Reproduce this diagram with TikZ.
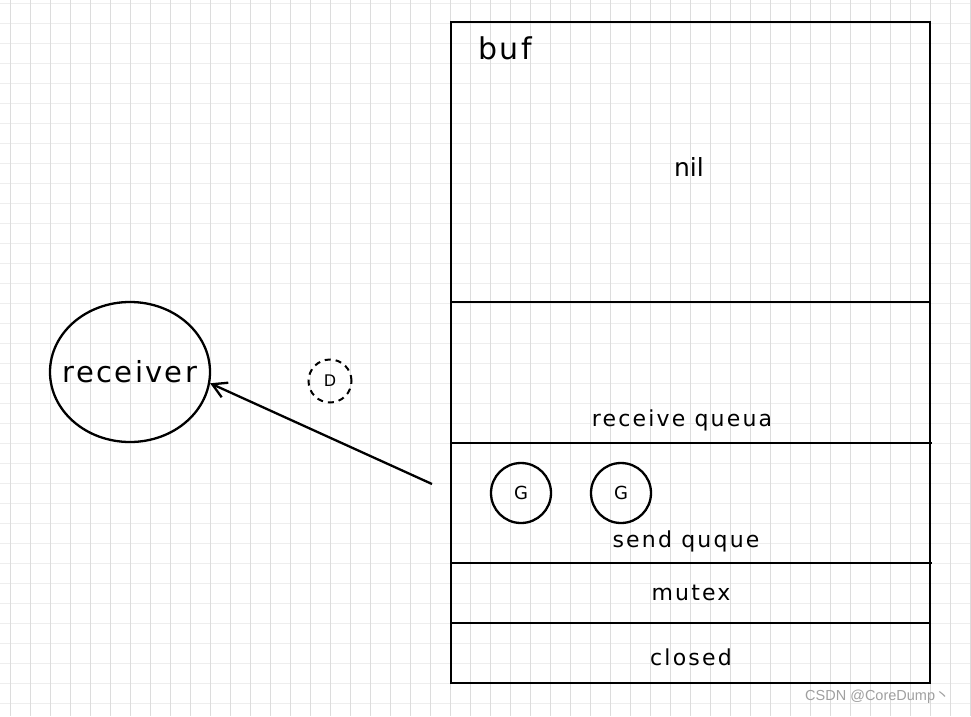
\documentclass[tikz,border=0pt]{standalone}
\usepackage{fontspec}
\setmainfont{DejaVu Sans}
\newfontfamily\wmfont{Liberation Sans}
\newfontfamily\cjkfont{Noto Sans CJK SC}
\usetikzlibrary{arrows.meta,shapes.geometric}
\definecolor{gridv}{HTML}{DCDCDC}
\definecolor{gridh}{HTML}{EEEEEE}
\definecolor{wm}{HTML}{A0A0A0}
\tikzset{
  boxline/.style={line width=2.3pt, black},
  divline/.style={line width=2.8pt, black},
  lbl/.style={inner sep=0pt, font=\fontsize{22}{24}\selectfont\addfontfeatures{LetterSpace=10}},
  gnode/.style={circle, draw, line width=2.3pt, minimum size=60pt, inner sep=0pt, font=\fontsize{18}{19}\selectfont},
}
\begin{document}
\begin{tikzpicture}[x=1pt,y=-1pt]
\useasboundingbox (0,0) rectangle (971,716);
\fill[white] (0,0) rectangle (971,716);
% grid
\foreach \y in {3,23,...,716} \draw[gridh, line width=1pt] (0,\y) -- (971,\y);
\foreach \x in {10,30,...,971} \draw[gridv, line width=1pt] (\x,0) -- (\x,716);
% main box
\coordinate (tl) at (451,22);
\coordinate (br) at (930,683);
\draw[boxline] (tl) rectangle (br);
\coordinate (d1l) at (451,302); \coordinate (d1r) at (930,302);
\coordinate (d2l) at (451,443); \coordinate (d2r) at (932,443);
\coordinate (d3l) at (451,563); \coordinate (d3r) at (932,563);
\coordinate (d4l) at (451,623); \coordinate (d4r) at (930,623);
\draw[divline] (d1l) -- (d1r);
\draw[divline] (d2l) -- (d2r);
\draw[divline] (d3l) -- (d3r);
\draw[divline] (d4l) -- (d4r);
% labels
\node[lbl, font=\fontsize{30}{32}\selectfont\addfontfeatures{LetterSpace=8}] (buf) at (505,48) {buf};
\node[lbl, font=\fontsize{25}{27}\selectfont] (nil) at (689,167) {nil};
\node[lbl] (recvq) at (682,420) {receive queua};
\node[lbl] (sendq) at (686,541) {send quque};
\node[lbl] (mutex) at (691,593) {mutex};
\node[lbl] (closed) at (691,657) {closed};
% goroutines
\node[gnode] (g1) at (521,493) {G};
\node[gnode] (g2) at (621,493) {G};
% D
\node[circle, draw, dashed, dash pattern=on 6pt off 5pt, line width=2pt, minimum size=43pt, inner sep=0pt, font=\fontsize{16}{17}\selectfont] (dn) at (330,381) {D};
% receiver
\node[ellipse, draw, line width=2.3pt, minimum width=160pt, minimum height=140pt, inner sep=0pt] (receiver) at (130,372) {};
\node[inner sep=0pt, font=\fontsize{29}{30}\selectfont\addfontfeatures{LetterSpace=8}] (recvtext) at (receiver.center) {receiver};
\coordinate (tail) at (432,484);
\draw[line width=2.3pt, -{Straight Barb[length=14pt,width=16pt,line width=2.3pt]}] (tail) -- (receiver.-8);
% watermark
\node[inner sep=0pt, text=wm, font=\fontsize{14.5}{15}\selectfont\wmfont, anchor=west] (wmk) at (805,697) {CSDN @CoreDump{\cjkfont 丶}};
\end{tikzpicture}
\end{document}
